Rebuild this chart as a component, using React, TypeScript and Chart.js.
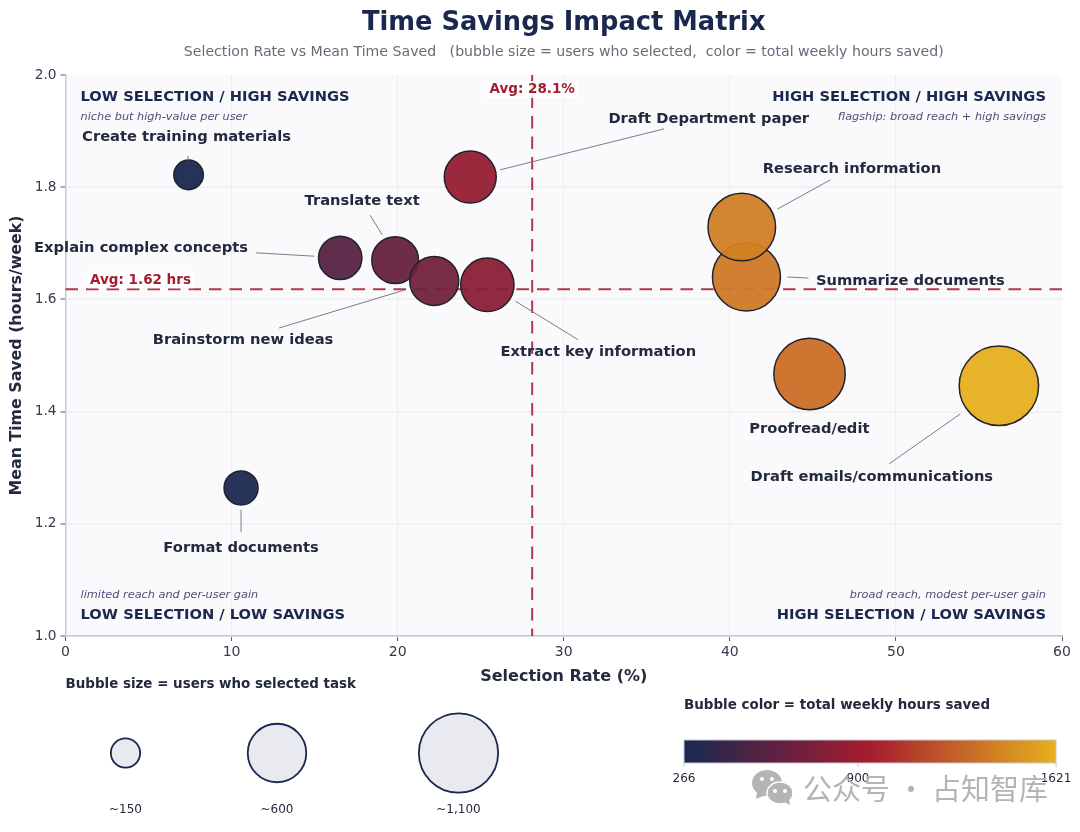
import React, { useEffect, useRef } from "react";
import { Chart, registerables } from "chart.js";

Chart.register(...registerables);

const FONT = '"DejaVu Sans"';
const NAVY = "#1a2850";
const INK = "#232a3e";
const RED = "#a61c30";

const tasks = [
  "Create training materials",
  "Format documents",
  "Explain complex concepts",
  "Translate text",
  "Brainstorm new ideas",
  "Extract key information",
  "Draft Department paper",
  "Summarize documents",
  "Research information",
  "Proofread/edit",
  "Draft emails/communications",
];
const selectionRate = [7.41, 10.57, 16.54, 19.85, 22.2, 25.4, 24.37, 41.0, 40.72, 44.8, 56.2];
const meanTimeSaved = [1.822, 1.264, 1.674, 1.67, 1.633, 1.626, 1.818, 1.64, 1.729, 1.467, 1.446];
const usersSelected = [153, 202, 330, 383, 420, 499, 473, 810, 800, 892, 1104];
const totalHours = [266, 275, 552, 640, 686, 811, 861, 1370, 1400, 1320, 1621];

const avgRate = 28.1;
const avgTime = 1.618;
const legendUsers = [150, 600, 1100];
const legendLabels = ["~150", "~600", "~1,100"];
const colorTicks = [266, 900, 1621];

// label anchor per task, in axis units
const labelX = [7.29, 10.57, 4.55, 17.86, 10.69, 32.08, 38.73, 50.87, 47.35, 44.79, 48.55];
const labelY = [1.889, 1.157, 1.691, 1.775, 1.527, 1.506, 1.921, 1.633, 1.832, 1.369, 1.283];
// leader lines per task, in axis units (null = no leader)
const leaders: (number[] | null)[] = [
  [7.38, 1.856, 7.38, 1.848],
  [10.57, 1.185, 10.57, 1.225],
  [11.48, 1.683, 14.97, 1.677],
  [18.34, 1.75, 19.07, 1.715],
  [12.86, 1.549, 20.45, 1.617],
  [30.87, 1.528, 27.08, 1.597],
  [36.05, 1.904, 26.17, 1.831],
  [44.73, 1.638, 43.46, 1.64],
  [46.05, 1.813, 42.86, 1.761],
  null,
  [49.6, 1.307, 53.88, 1.396],
];

const cmapStops = [
  [26, 40, 80],
  [166, 28, 48],
  [230, 176, 30],
];

const hoursToColor = (hours: number, alpha = 1) => {
  const t = (hours - 266) / (1621 - 266);
  const seg = t < 0.5 ? 0 : 1;
  const f = t < 0.5 ? t * 2 : (t - 0.5) * 2;
  const c = cmapStops[seg].map((v, i) => Math.round(v + (cmapStops[seg + 1][i] - v) * f));
  return `rgba(${c[0]},${c[1]},${c[2]},${alpha})`;
};

const usersToRadius = (users: number) => 1.195 * Math.sqrt(users);

const text = (ctx, str, x, y, font, color, align = "center") => {
  ctx.font = font;
  ctx.fillStyle = color;
  ctx.textAlign = align;
  ctx.textBaseline = "middle";
  ctx.fillText(str, x, y);
};

const matrixPlugin = {
  id: "matrix",
  beforeDraw(chart) {
    const { ctx, chartArea: a } = chart;
    ctx.save();
    ctx.fillStyle = "#fafafd";
    ctx.fillRect(a.left, a.top, a.right - a.left, a.bottom - a.top);
    // title is centred over the plot, not over the page
    const mid = (a.left + a.right) / 2;
    text(ctx, "Time Savings Impact Matrix", mid, 23.4, `bold 25.7px ${FONT}`, NAVY);
    text(
      ctx,
      "Selection Rate vs Mean Time Saved   (bubble size = users who selected,  color = total weekly hours saved)",
      mid,
      52.3,
      `14.13px ${FONT}`,
      "#676b78"
    );
    ctx.restore();
  },
  beforeDatasetsDraw(chart) {
    const { ctx, chartArea: a, scales } = chart;
    ctx.save();
    ctx.strokeStyle = "rgba(166,28,48,0.88)";
    ctx.lineWidth = 2;
    ctx.setLineDash([12.5, 8]);
    ctx.beginPath();
    ctx.moveTo(scales.x.getPixelForValue(avgRate), a.top);
    ctx.lineTo(scales.x.getPixelForValue(avgRate), a.bottom);
    ctx.moveTo(a.left, scales.y.getPixelForValue(avgTime));
    ctx.lineTo(a.right, scales.y.getPixelForValue(avgTime));
    ctx.stroke();
    ctx.restore();
  },
  afterDatasetsDraw(chart) {
    const { ctx, chartArea: a, scales } = chart;
    const { x, y } = scales;
    ctx.save();

    // average labels
    ctx.fillStyle = "rgba(255,255,255,0.85)";
    ctx.fillRect(x.getPixelForValue(avgRate) - 45, a.top + 6, 90, 17);
    ctx.fillRect(a.left + 22, y.getPixelForValue(avgTime) - 18, 106, 17);
    text(ctx, `Avg: ${avgRate}%`, x.getPixelForValue(avgRate), a.top + 14.5, `bold 13.5px ${FONT}`, RED);
    text(ctx, `Avg: ${avgTime.toFixed(2)} hrs`, a.left + 75, y.getPixelForValue(avgTime) - 9, `bold 13.5px ${FONT}`, RED);

    // quadrant captions
    const cap = `bold 14.7px ${FONT}`;
    const sub = `italic 11.3px ${FONT}`;
    const subColor = "#4a5078";
    text(ctx, "LOW SELECTION / HIGH SAVINGS", a.left + 15, a.top + 22, cap, NAVY, "left");
    text(ctx, "niche but high-value per user", a.left + 15, a.top + 42, sub, subColor, "left");
    text(ctx, "HIGH SELECTION / HIGH SAVINGS", a.right - 16, a.top + 22, cap, NAVY, "right");
    text(ctx, "flagship: broad reach + high savings", a.right - 16, a.top + 42, sub, subColor, "right");
    text(ctx, "limited reach and per-user gain", a.left + 15, a.bottom - 41, sub, subColor, "left");
    text(ctx, "LOW SELECTION / LOW SAVINGS", a.left + 15, a.bottom - 21, cap, NAVY, "left");
    text(ctx, "broad reach, modest per-user gain", a.right - 16, a.bottom - 41, sub, subColor, "right");
    text(ctx, "HIGH SELECTION / LOW SAVINGS", a.right - 16, a.bottom - 21, cap, NAVY, "right");

    // leaders and task labels
    ctx.strokeStyle = "#7b7d86";
    ctx.lineWidth = 1;
    leaders.forEach((l) => {
      if (!l) return;
      ctx.beginPath();
      ctx.moveTo(x.getPixelForValue(l[0]), y.getPixelForValue(l[1]));
      ctx.lineTo(x.getPixelForValue(l[2]), y.getPixelForValue(l[3]));
      ctx.stroke();
    });
    tasks.forEach((t, i) => {
      text(ctx, t, x.getPixelForValue(labelX[i]), y.getPixelForValue(labelY[i]), `bold 14.7px ${FONT}`, INK);
    });

    // size legend
    text(ctx, "Bubble size = users who selected task", 65.5, 685, `bold 13.45px ${FONT}`, INK, "left");
    const legendCx = [125.5, 277, 458.5];
    legendUsers.forEach((u, i) => {
      ctx.beginPath();
      ctx.arc(legendCx[i], 753, usersToRadius(u), 0, Math.PI * 2);
      ctx.fillStyle = "#e9eaf0";
      ctx.fill();
      ctx.strokeStyle = NAVY;
      ctx.lineWidth = 1.8;
      ctx.stroke();
      text(ctx, legendLabels[i], legendCx[i], 810, `12px ${FONT}`, INK);
    });

    // colour bar
    const barL = 684;
    const barR = 1056;
    text(ctx, "Bubble color = total weekly hours saved", barL, 706, `bold 13.45px ${FONT}`, INK, "left");
    const grad = ctx.createLinearGradient(barL, 0, barR, 0);
    grad.addColorStop(0, hoursToColor(266));
    grad.addColorStop(0.5, hoursToColor(943.5));
    grad.addColorStop(1, hoursToColor(1621));
    ctx.fillStyle = grad;
    ctx.fillRect(barL, 740, barR - barL, 23);
    ctx.strokeStyle = "#c8cad8";
    ctx.lineWidth = 1;
    ctx.strokeRect(barL, 740, barR - barL, 23);
    colorTicks.forEach((v) => {
      const px = barL + ((v - 266) / (1621 - 266)) * (barR - barL);
      ctx.beginPath();
      ctx.moveTo(px, 763);
      ctx.lineTo(px, 767);
      ctx.stroke();
      text(ctx, String(v), px, 779, `12px ${FONT}`, INK);
    });

    // watermark
    const grey = "#b4b4b4";
    ctx.fillStyle = grey;
    ctx.beginPath();
    ctx.ellipse(767, 783, 15, 13, 0, 0, Math.PI * 2);
    ctx.fill();
    ctx.beginPath();
    ctx.moveTo(757, 792);
    ctx.lineTo(756, 799);
    ctx.lineTo(766, 795);
    ctx.fill();
    ctx.strokeStyle = "#fff";
    ctx.lineWidth = 1.5;
    ctx.beginPath();
    ctx.ellipse(780, 793, 13, 11, 0, 0, Math.PI * 2);
    ctx.fillStyle = grey;
    ctx.fill();
    ctx.stroke();
    ctx.beginPath();
    ctx.moveTo(784, 802);
    ctx.lineTo(790, 805);
    ctx.lineTo(789, 798);
    ctx.fill();
    ctx.fillStyle = "#fff";
    [[762, 779], [772, 779], [775, 791], [785, 791]].forEach(([ex, ey]) => {
      ctx.beginPath();
      ctx.arc(ex, ey, 2, 0, Math.PI * 2);
      ctx.fill();
    });
    text(ctx, "公众号 · 占知智库", 803, 789, '29px "Noto Sans CJK SC"', grey, "left");

    ctx.restore();
  },
};

const hideEdge = (color: string, edge: number) => (ctx) => ctx.tick && ctx.tick.value === edge ? "rgba(0,0,0,0)" : color;

const App = () => {
  const chartRef = useRef<HTMLCanvasElement>(null);

  useEffect(() => {
    document.body.style.margin = "0";
    const chart = new Chart(chartRef.current.getContext("2d"), {
      type: "bubble",
      data: {
        datasets: [
          {
            data: tasks.map((_, i) => ({
              x: selectionRate[i],
              y: meanTimeSaved[i],
              r: usersToRadius(usersSelected[i]),
            })),
            backgroundColor: totalHours.map((h) => hoursToColor(h, 0.95)),
            borderColor: "#20222c",
            borderWidth: 1.5,
          },
        ],
      },
      options: {
        animation: false,
        responsive: false,
        layout: { autoPadding: false, padding: { top: 75, left: 0, right: 18, bottom: 146 } },
        plugins: {
          legend: { display: false },
          tooltip: { enabled: false },
          title: { display: false },
        },
        scales: {
          x: {
            min: 0,
            max: 60,
            afterFit: (s) => {
              s.height = 50;
            },
            ticks: { stepSize: 10, color: "#333a4d", padding: 3, maxRotation: 0, font: { family: FONT, size: 14 } },
            grid: { color: hideEdge("#ecedf3", 60), tickColor: "#555a6e", tickLength: 5, tickWidth: 1, lineWidth: 1 },
            border: { color: "#c5c8d8", width: 1.5 },
            title: {
              display: true,
              text: "Selection Rate (%)",
              color: INK,
              font: { family: FONT, size: 16, weight: "bold" },
              padding: 0,
            },
          },
          y: {
            min: 1,
            max: 2,
            afterFit: (s) => {
              s.width = 65.5;
            },
            ticks: {
              stepSize: 0.2,
              color: "#333a4d",
              padding: 4,
              font: { family: FONT, size: 13.7 },
              callback: (v) => Number(v).toFixed(1),
            },
            grid: { color: hideEdge("#f0f1f5", 2), tickColor: "#555a6e", tickLength: 5, tickWidth: 1, lineWidth: 2 },
            border: { color: "#c5c8d8", width: 1.5 },
            title: {
              display: true,
              text: "Mean Time Saved (hours/week)",
              color: INK,
              font: { family: FONT, size: 15.8, weight: "bold" },
              padding: { top: 7, bottom: 0 },
            },
          },
        },
      },
      plugins: [matrixPlugin],
    });

    return () => {
      chart.destroy();
    };
  }, []);

  return (
    <div style={{ width: 1080, height: 832 }}>
      <canvas ref={chartRef} width={1080} height={832} />
    </div>
  );
};

export default App;
